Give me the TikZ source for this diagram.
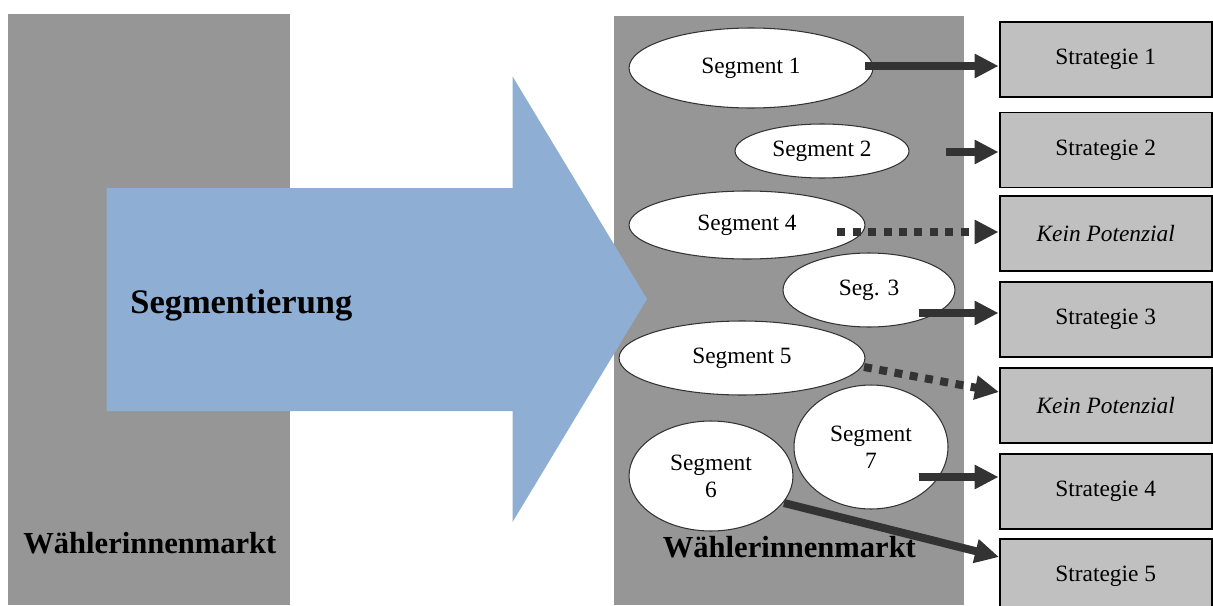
\documentclass[tikz,border=0pt]{standalone}
\usepackage{fontspec}
\setmainfont{Liberation Serif}
\usetikzlibrary{shapes.geometric,arrows.meta}

\definecolor{marktgrau}{RGB}{150,150,150}
\definecolor{kastengrau}{RGB}{192,192,192}
\definecolor{pfeilblau}{RGB}{143,174,211}
\definecolor{pfeildunkel}{RGB}{51,51,51}

\begin{document}
\begin{tikzpicture}[x = 0.02cm, y = -0.02cm,
        segment/.style = {ellipse, draw = black!80, fill = white, line width = 0.6pt, inner sep = 0pt, align = center, font = \fontsize{13.3}{15.5}\selectfont},
        strategie/.style = {draw = black, fill = kastengrau, line width = 1.1pt, minimum width = 4.25cm, minimum height = 1.5cm, inner sep = 0pt, font = \fontsize{13.3}{15.5}\selectfont},
        pfeil/.style = {draw = pfeildunkel, line width = 0.16cm, -{Triangle[width = 0.46cm, length = 0.48cm]}},
        punktpfeil/.style = {pfeil, dash pattern = on 0.16cm off 0.15cm},
        markt/.style = {anchor = base west, inner sep = 0pt, font = \bfseries\fontsize{17.4}{20}\selectfont}]
        \clip (0, 0) rectangle (1213, 605);
        % the two markets and the big arrow
        \fill[color = marktgrau] (8, 14) rectangle (290, 605);
        \fill[color = marktgrau] (614, 16) rectangle (964, 605);
        \fill[color = pfeilblau] (106.5, 188) -- (512.6, 188) -- (512.6, 76.5) -- (647, 299) -- (512.6, 522) -- (512.6, 411) -- (106.5, 411) -- cycle;
        \node (segm) at (130, 313) [anchor = base west, inner sep = 0pt, font = \bfseries\fontsize{19.6}{22}\selectfont] {Segmentierung};
        \node (markt1) at (23, 553) [markt] {Wählerinnenmarkt};
        \node (markt2) at (662.5, 557) [markt] {Wählerinnenmarkt};

        % segments
        \node (seg1) at (751, 68) [segment, minimum width = 4.88cm, minimum height = 1.6cm] {Segment 1};
        \node (seg2) at (822, 151) [segment, minimum width = 3.48cm, minimum height = 1.08cm] {Segment 2};
        \node (seg4) at (747, 225) [segment, minimum width = 4.72cm, minimum height = 1.36cm] {Segment 4};
        \node (seg3) at (869, 290) [segment, minimum width = 3.44cm, minimum height = 1.48cm] {Seg. 3};
        \node (seg5) at (742, 358) [segment, minimum width = 4.92cm, minimum height = 1.48cm] {Segment 5};
        \node (seg7) at (871, 447) [segment, minimum width = 3.08cm, minimum height = 2.48cm] {Segment\\7};
        \node (seg6) at (711, 476) [segment, minimum width = 3.28cm, minimum height = 2.2cm] {Segment\\6};

        % strategies
        \node (st1) at (1105.75, 59.5) [strategie] {Strategie 1};
        \node (st2) at (1105.75, 150) [strategie] {Strategie 2};
        \node (kp1) at (1105.75, 233.5) [strategie] {\itshape Kein Potenzial};
        \node (st3) at (1105.75, 319.5) [strategie] {Strategie 3};
        \node (kp2) at (1105.75, 405.5) [strategie] {\itshape Kein Potenzial};
        \node (st4) at (1105.75, 491.5) [strategie] {Strategie 4};
        \node (st5) at (1105.75, 576.5) [strategie] {Strategie 5};

        % arrows
        \coordinate (a1) at (865, 66);
        \coordinate (a2) at (946, 152);
        \coordinate (a3) at (837, 232);
        \coordinate (a4) at (918.6, 313);
        \coordinate (a5) at (864, 367);
        \coordinate (e5) at (999, 392);
        \coordinate (a6) at (918.6, 477);
        \coordinate (a7) at (784, 503);
        \coordinate (e7) at (999, 557);
        \draw[pfeil] (a1) -- (a1 -| st1.west);
        \draw[pfeil] (a2) -- (a2 -| st2.west);
        \draw[punktpfeil] (a3) -- (a3 -| kp1.west);
        \draw[pfeil] (a4) -- (a4 -| st3.west);
        \draw[punktpfeil] (a5) -- (e5);
        \draw[pfeil] (a6) -- (a6 -| st4.west);
        \draw[pfeil] (a7) -- (e7);
    \end{tikzpicture}
\end{document}
